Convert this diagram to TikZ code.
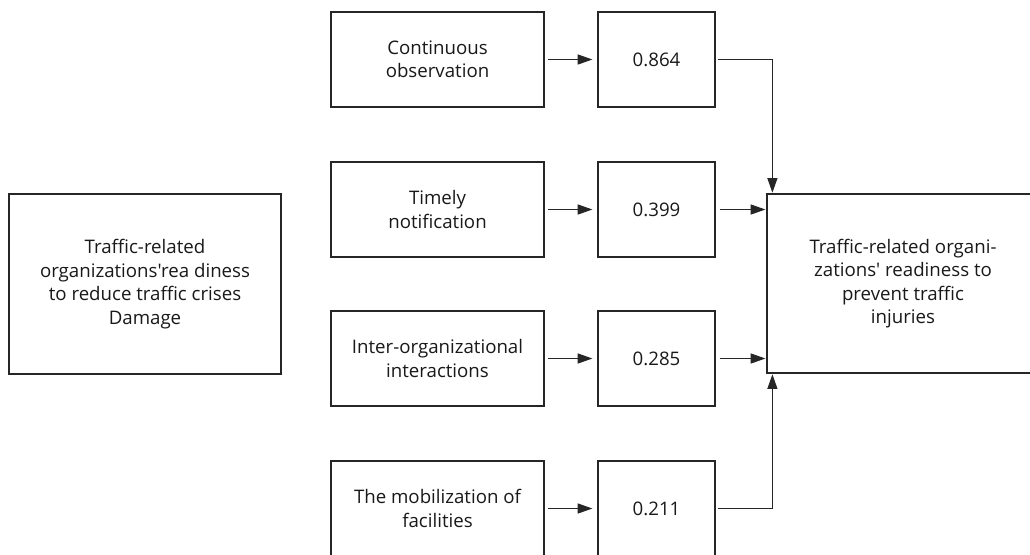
\documentclass[tikz,border=0pt]{standalone}
\usepackage{fontspec}
\setmainfont{Open Sans}[Ligatures=TeXOff]
\usetikzlibrary{arrows.meta}
\begin{document}
\begin{tikzpicture}[x=0.75pt,y=-0.75pt,
  box/.style={draw=black!85, line width=0.9pt, align=center, inner sep=0pt,
    font=\fontsize{14}{17.6}\selectfont, text=black!90},
  bigbox/.style={box, minimum width=204pt, minimum height=135pt},
  labelbox/.style={box, minimum width=159.75pt, minimum height=71.25pt},
  valbox/.style={box, minimum width=87.75pt, minimum height=71.25pt},
  arr/.style={-{Triangle[length=11pt,width=7.5pt]}, line width=0.9pt, draw=black!85}]
\useasboundingbox (0,0) rectangle (1030,554);
\fill[white] (0,0) rectangle (1030,554);
% left box
\node[bigbox] (src) at (145,284) {Traffic-related\\organizations'rea diness\\to reduce traffic crises\\Damage};
% label boxes
\node[labelbox] (l1) at (437.5,59.5) {Continuous\\observation};
\node[labelbox] (l2) at (437.5,209.5) {Timely\\notification};
\node[labelbox] (l3) at (437.5,358.5) {Inter-organizational\\interactions};
\node[labelbox] (l4) at (437.5,508.5) {The mobilization of\\facilities};
% value boxes
\node[valbox] (v1) at (656.5,59.5) {0.864};
\node[valbox] (v2) at (656.5,209.5) {0.399};
\node[valbox] (v3) at (656.5,358.5) {0.285};
\node[valbox] (v4) at (656.5,508.5) {0.211};
% target
\node[bigbox, minimum height=134.25pt] (t) at (903,283.5) {Traffic-related organi-\\zations' readiness to\\prevent traffic\\injuries};
% arrows label -> value
\foreach \i in {1,2,3,4}{
  \draw[arr, shorten <=2.25pt, shorten >=3.75pt] (l\i.east) -- (v\i.west);
}
% value -> target
\draw[arr, shorten <=3pt, shorten >=0.75pt] (v2.east) -- (v2.east -| t.west);
\draw[arr, shorten <=3pt, shorten >=0.75pt] (v3.east) -- (v3.east -| t.west);
\draw[arr, shorten <=1.5pt, shorten >=0.5pt] (v1.east) -| ([xshift=4.5pt]t.north west);
\draw[arr, shorten <=1.5pt, shorten >=0.5pt] (v4.east) -| ([xshift=4.5pt]t.south west);
\end{tikzpicture}
\end{document}
